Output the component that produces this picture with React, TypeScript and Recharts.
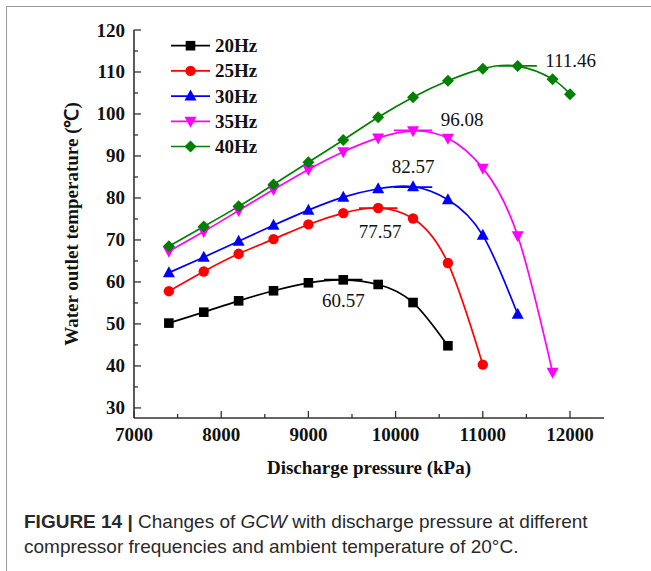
import React from 'react';
import { LineChart, Line, XAxis, YAxis, ReferenceLine, ReferenceDot, Legend } from 'recharts';

// ---- data ----
const pressures20 = [7400, 7800, 8200, 8600, 9000, 9400, 9800, 10200, 10600];
const temps20 = [50.2, 52.8, 55.5, 57.9, 59.8, 60.5, 59.4, 55.1, 44.8];

const pressures25 = [7400, 7800, 8200, 8600, 9000, 9400, 9800, 10200, 10600, 11000];
const temps25 = [57.8, 62.5, 66.7, 70.2, 73.7, 76.4, 77.6, 75.1, 64.5, 40.3];

const pressures30 = [7400, 7800, 8200, 8600, 9000, 9400, 9800, 10200, 10600, 11000, 11400];
const temps30 = [62.2, 65.9, 69.7, 73.5, 77.1, 80.2, 82.2, 82.7, 79.6, 71.1, 52.3];

const pressures35 = [7400, 7800, 8200, 8600, 9000, 9400, 9800, 10200, 10600, 11000, 11400, 11800];
const temps35 = [67.3, 72.0, 77.0, 82.0, 86.8, 91.0, 94.3, 96.0, 94.2, 87.1, 71.0, 38.5];

const pressures40 = [7400, 7800, 8200, 8600, 9000, 9400, 9800, 10200, 10600, 11000, 11400, 11800, 12000];
const temps40 = [68.5, 73.2, 78.0, 83.2, 88.5, 93.8, 99.2, 104.0, 107.9, 110.8, 111.4, 108.3, 104.7];

const seriesNames = ['20Hz', '25Hz', '30Hz', '35Hz', '40Hz'];
const peakPressures = [9400, 9800, 10200, 10200, 11400];
const peakValues = [60.57, 77.57, 82.57, 96.08, 111.46];
const peakLabels = ['60.57', '77.57', '82.57', '96.08', '111.46'];

const xTicks = [7000, 7500, 8000, 8500, 9000, 9500, 10000, 10500, 11000, 11500, 12000];
const yTicks = [30, 35, 40, 45, 50, 55, 60, 65, 70, 75, 80, 85, 90, 95, 100, 105, 110, 115, 120];
const xDomain = [7000, 12390];
const yDomain = [27.6, 120];

const xTitle = 'Discharge pressure (kPa)';
const yTitle = 'Water outlet temperature (\u2103)';
const captionBold = 'FIGURE 14 | ';
const captionA = 'Changes of ';
const captionItalic = 'GCW';
const captionB = ' with discharge pressure at different';
const captionLine2 = 'compressor frequencies and ambient temperature of 20\u00b0C.';

// ---- styles ----
const colors = ['#000000', '#ff0000', '#0000ff', '#ff00ff', '#008000'];
const shapes = ['square', 'circle', 'triangle', 'triangleDown', 'diamond'];
const labelOffsets = [
  [0, 27],
  [2, 30],
  [0, -14],
  [49, -4],
  [53, 1],
];
const SERIF = '"Liberation Serif", "Times New Roman", serif';
const SANS = '"Liberation Sans", Arial, sans-serif';
const AXIS = '#333333';

const pairs = (xs: number[], ys: number[]) => xs.map((x, i) => ({ x, y: ys[i] }));
const seriesData = [
  pairs(pressures20, temps20),
  pairs(pressures25, temps25),
  pairs(pressures30, temps30),
  pairs(pressures35, temps35),
  pairs(pressures40, temps40),
];

function Marker({ cx, cy, shape, color }: { cx: number; cy: number; shape: string; color: string }) {
  if (cx == null || cy == null) return null;
  switch (shape) {
    case 'square':
      return <rect x={cx - 4.8} y={cy - 4.8} width={9.6} height={9.6} fill={color} />;
    case 'circle':
      return <circle cx={cx} cy={cy} r={5.2} fill={color} />;
    case 'triangle':
      return <polygon points={`${cx},${cy - 6.5} ${cx + 6},${cy + 4.5} ${cx - 6},${cy + 4.5}`} fill={color} />;
    case 'triangleDown':
      return <polygon points={`${cx - 6},${cy - 4.5} ${cx + 6},${cy - 4.5} ${cx},${cy + 6.5}`} fill={color} />;
    default:
      return <polygon points={`${cx},${cy - 6} ${cx + 6},${cy} ${cx},${cy + 6} ${cx - 6},${cy}`} fill={color} />;
  }
}

const YTick = (props: any) => {
  const { x, y, payload } = props;
  const major = payload.value % 10 === 0;
  const ax = x + 8;
  return (
    <g>
      <line x1={ax} x2={ax + (major ? 7 : 4)} y1={y} y2={y} stroke={AXIS} strokeWidth={1.3} />
      {major && (
        <text x={x - 1} y={y} dy={6.5} textAnchor="end" fontFamily={SERIF} fontWeight="bold" fontSize={19} fill="#111">
          {payload.value}
        </text>
      )}
    </g>
  );
};

const XTick = (props: any) => {
  const { x, y, payload } = props;
  const major = payload.value % 1000 === 0;
  const ay = y - 8;
  return (
    <g>
      <line x1={x} x2={x} y1={ay} y2={ay - (major ? 7 : 4)} stroke={AXIS} strokeWidth={1.3} />
      {major && (
        <text x={x} y={ay} dy={23} textAnchor="middle" fontFamily={SERIF} fontWeight="bold" fontSize={19} fill="#111">
          {payload.value}
        </text>
      )}
    </g>
  );
};

const XTitle = (props: any) => {
  const vb = props.viewBox || {};
  return (
    <text x={vb.x + vb.width / 2} y={vb.y + 56} textAnchor="middle" fontFamily={SERIF} fontWeight="bold" fontSize={19} fill="#111">
      {xTitle}
    </text>
  );
};

const YTitle = (props: any) => {
  const vb = props.viewBox || {};
  const cx = 72;
  const cy = vb.y + vb.height / 2;
  return (
    <text x={cx} y={cy} transform={`rotate(-90 ${cx} ${cy})`} dy={6} textAnchor="middle" fontFamily={SERIF} fontWeight="bold" fontSize={19} fill="#111">
      {yTitle}
    </text>
  );
};

const renderLegend = () => (
  <svg width={300} height={200} style={{ overflow: 'visible' }}>
    {seriesNames.map((name, i) => {
      const cy = 45.7 + i * 25.2;
      return (
        <g key={name}>
          <line x1={171} x2={210} y1={cy} y2={cy} stroke={colors[i]} strokeWidth={1.7} />
          <Marker cx={190.5} cy={cy} shape={shapes[i]} color={colors[i]} />
          <text x={215} y={cy} dy={6.5} fontFamily={SERIF} fontWeight="bold" fontSize={19} fill="#111">
            {name}
          </text>
        </g>
      );
    })}
  </svg>
);

export default function App() {
  return (
    <div style={{ position: 'absolute', left: 0, top: 0, width: 651, height: 571, background: '#fff', overflow: 'hidden' }}>
      <div style={{ position: 'absolute', left: 6, top: 6, width: 660, height: 600, borderLeft: '1.5px solid #9a9a9a', borderTop: '1.5px solid #9a9a9a' }} />
      <div style={{ position: 'absolute', left: 0, top: 0 }}>
        <LineChart width={651} height={571} margin={{ top: 30, right: 47, bottom: 123, left: 74 }}>
          <XAxis
            dataKey="x"
            type="number"
            domain={xDomain}
            ticks={xTicks}
            interval={0}
            allowDataOverflow
            tick={<XTick />}
            tickLine={false}
            tickSize={0}
            tickMargin={8}
            height={30}
            axisLine={{ stroke: AXIS, strokeWidth: 1.6 }}
            label={<XTitle />}
          />
          <XAxis xAxisId="top" orientation="top" type="number" domain={xDomain} allowDataOverflow tick={false} tickLine={false} height={0} axisLine={{ stroke: AXIS, strokeWidth: 1.6 }} />
          <YAxis
            type="number"
            domain={yDomain}
            ticks={yTicks}
            interval={0}
            allowDataOverflow
            tick={<YTick />}
            tickLine={false}
            tickSize={0}
            tickMargin={8}
            width={60}
            axisLine={{ stroke: AXIS, strokeWidth: 1.6 }}
            label={<YTitle />}
          />
          <YAxis yAxisId="right" orientation="right" type="number" domain={yDomain} allowDataOverflow tick={false} tickLine={false} width={0} axisLine={{ stroke: AXIS, strokeWidth: 1.6 }} />
          <Legend layout="vertical" align="center" verticalAlign="middle" content={renderLegend} wrapperStyle={{ position: 'absolute', left: 0, top: 0, width: 300, height: 200 }} />
          {seriesData.map((d, i) => (
            <ReferenceLine
              key={`ref${i}`}
              segment={[
                { x: peakPressures[i] - 220, y: peakValues[i] },
                { x: peakPressures[i] + 220, y: peakValues[i] },
              ]}
              stroke={colors[i]}
              strokeWidth={1.7}
            />
          ))}
          {seriesData.map((d, i) => (
            <Line
              key={seriesNames[i]}
              data={d}
              dataKey="y"
              name={seriesNames[i]}
              type="natural"
              stroke={colors[i]}
              strokeWidth={1.7}
              isAnimationActive={false}
              dot={(p: any) => <Marker key={`m${i}-${p.index}`} cx={p.cx} cy={p.cy} shape={shapes[i]} color={colors[i]} />}
              activeDot={false}
            />
          ))}
          {seriesData.map((d, i) => (
            <ReferenceDot
              key={`lab${i}`}
              x={peakPressures[i]}
              y={peakValues[i]}
              r={0}
              shape={(p: any) => (
                <text x={p.cx + labelOffsets[i][0]} y={p.cy + labelOffsets[i][1]} textAnchor="middle" fontFamily={SERIF} fontSize={19} fill="#111">
                  {peakLabels[i]}
                </text>
              )}
            />
          ))}
        </LineChart>
      </div>
      <div style={{ position: 'absolute', left: 24, top: 509, width: 620, fontFamily: SANS, fontSize: 19, lineHeight: '25px', color: '#2a2a2a', whiteSpace: 'nowrap' }}>
        <div>
          <span style={{ fontWeight: 'bold' }}>{captionBold}</span>
          <span>{captionA}</span>
          <span style={{ fontStyle: 'italic' }}>{captionItalic}</span>
          <span>{captionB}</span>
        </div>
        <div>{captionLine2}</div>
      </div>
    </div>
  );
}
